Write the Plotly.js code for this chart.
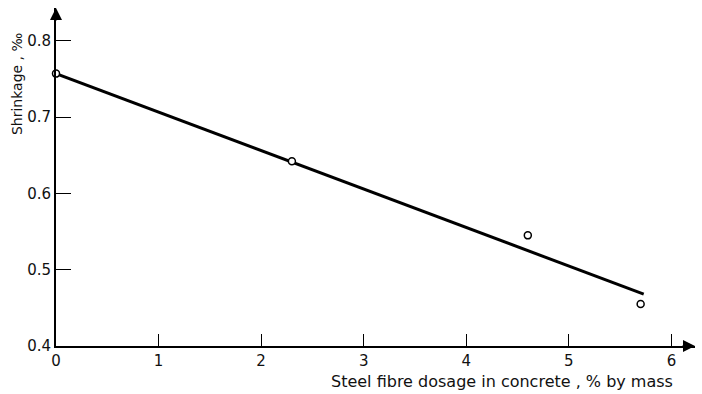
<!DOCTYPE html>
<html>
<head>
<meta charset="utf-8">
<script src="https://cdn.plot.ly/plotly-3.0.1.min.js"></script>
<style>html,body{margin:0;padding:0;background:#fff;}#chart{width:702px;height:394px;}</style>
</head>
<body>
<div id="chart"></div>
<script>
// Measured points
var dosage = [0, 2.3, 4.6, 5.7];
var shrinkage = [0.757, 0.642, 0.545, 0.455];
// Fitted line end points
var fitX = [0, 5.73];
var fitY = [0.757, 0.468];
var xTicks = [0, 1, 2, 3, 4, 5, 6];
var yTicks = [0.4, 0.5, 0.6, 0.7, 0.8];
var yTickText = ['0.4', '0.5', '0.6', '0.7', '0.8'];

var fontFam = 'DejaVu Sans, Liberation Sans, sans-serif';

var traces = [
  {x: fitX, y: fitY, mode: 'lines', line: {color: '#000', width: 3}, hoverinfo: 'skip', cliponaxis: false},
  {x: dosage, y: shrinkage, mode: 'markers', cliponaxis: false,
   marker: {symbol: 'circle', size: 7, color: '#fff', line: {color: '#000', width: 1.5}}}
];

var layout = {
  width: 702, height: 394,
  margin: {l: 56, r: 7, t: 8, b: 48},
  paper_bgcolor: '#fff', plot_bgcolor: '#fff',
  showlegend: false,
  font: {family: fontFam, color: '#111', size: 15},
  xaxis: {
    range: [0, 6.23], showgrid: false, zeroline: false,
    showline: true, linecolor: '#000', linewidth: 1.5,
    ticks: 'inside', ticklen: 12, tickwidth: 1.2, tickcolor: '#000',
    tickvals: xTicks, ticktext: xTicks.map(String),
    tickfont: {size: 15, family: fontFam}
  },
  yaxis: {
    range: [0.4, 0.843], showgrid: false, zeroline: false,
    showline: true, linecolor: '#000', linewidth: 2,
    ticks: 'inside', ticklen: 15, tickwidth: 1.2, tickcolor: '#000',
    tickvals: yTicks, ticktext: yTickText,
    tickfont: {size: 15, family: fontFam}
  },
  annotations: [
    {xref: 'paper', yref: 'paper', x: -0.061, y: 0.775, xanchor: 'center', yanchor: 'middle',
     text: 'Shrinkage , ‰', textangle: -90, showarrow: false, font: {size: 14, family: fontFam}},
    {xref: 'paper', yref: 'paper', x: 0.698, y: -0.1036, xanchor: 'center', yanchor: 'middle',
     text: 'Steel fibre dosage in concrete , % by mass',
     showarrow: false, font: {size: 16, family: fontFam}},
    {xref: 'paper', yref: 'paper', x: 0, y: 1, ax: 0, ay: 14, text: '', showarrow: true,
     arrowhead: 2, arrowsize: 1.6, arrowwidth: 1.5, arrowcolor: '#000'},
    {xref: 'paper', yref: 'paper', x: 1, y: 0, ax: -14, ay: 0, text: '', showarrow: true,
     arrowhead: 2, arrowsize: 1.6, arrowwidth: 1.5, arrowcolor: '#000'}
  ]
};

Plotly.newPlot('chart', traces, layout, {displayModeBar: false, staticPlot: true});
</script>
</body>
</html>
